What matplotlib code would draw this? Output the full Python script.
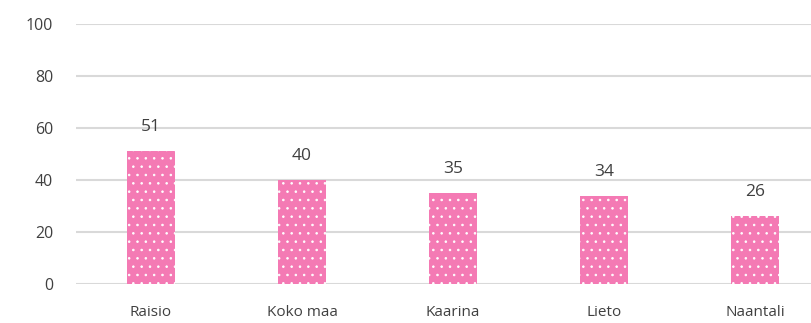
import matplotlib.pyplot as plt
import matplotlib as mpl

kunnat = ["Raisio", "Koko maa", "Kaarina", "Lieto", "Naantali"]
arvot = [51, 40, 35, 34, 26]
y_ticks = [0, 20, 40, 60, 80, 100]

PINK = "#f47ab4"
GRID = "#d9d9d9"
TEXT = "#404040"

mpl.rcParams["hatch.linewidth"] = 0.6
plt.rcParams["font.family"] = ["Open Sans", "DejaVu Sans"]

W, H = 811, 323
fig = plt.figure(figsize=(W / 100, H / 100), dpi=100)
# plot area: left edge of gridlines at x=75, 0 at y=284, 100 at y=24
left = 75.5 / W
ax = fig.add_axes([left, (H - 284) / H, 1 - left, (284 - 24) / H])

slot = 151.0
x = list(range(len(kunnat)))
# white edgecolor gives white hatch dots; linewidth 0 hides the outline
bars = ax.bar(x, arvot, width=48 / slot, color=PINK, edgecolor="white",
              linewidth=0, hatch="..", zorder=3)

for xi, v in zip(x, arvot):
    ax.annotate(str(v), (xi, v), xytext=(0, 24), textcoords="offset pixels",
                ha="center", va="center", fontsize=12.5, color=TEXT)

ax.set_xlim(-0.5, -0.5 + (W - 75.5) / slot)
ax.set_ylim(0, 100)
ax.set_yticks(y_ticks)
ax.set_xticks(x)
ax.set_xticklabels(kunnat)
ax.grid(axis="y", color=GRID, linewidth=1.5, zorder=0)
ax.set_axisbelow(True)
for s in ax.spines.values():
    s.set_visible(False)
ax.tick_params(axis="both", length=0, colors=TEXT)
ax.tick_params(axis="y", pad=16, labelsize=11.5)
ax.tick_params(axis="x", pad=15, labelsize=11)

fig.savefig("out.png", dpi=100)
